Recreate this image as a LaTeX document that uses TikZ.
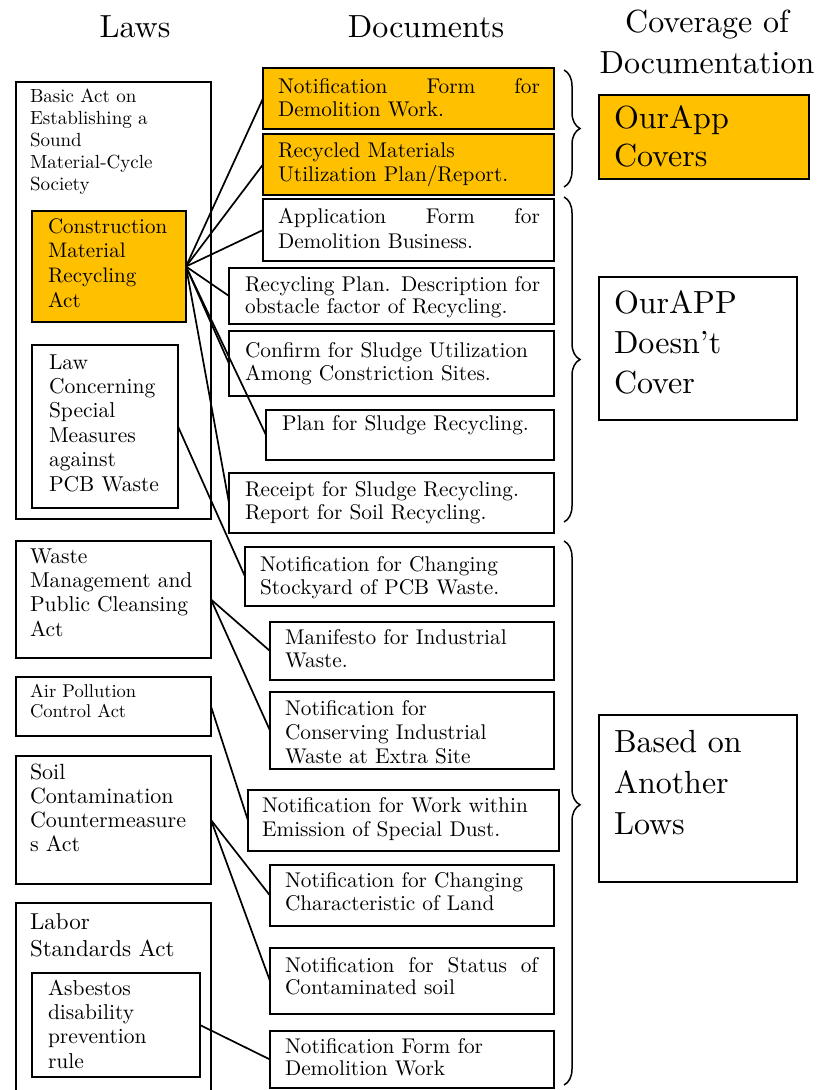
\documentclass[tikz,border=0pt]{standalone}
\usepackage{fontspec}
\setmainfont{lmroman10-regular.otf}
\usetikzlibrary{decorations.pathreplacing}
\definecolor{gold}{RGB}{255,192,0}
\begin{document}
\begin{tikzpicture}[x=1pt,y=-1pt,
  box/.style={draw, line width=1.8pt, inner sep=0pt, outer sep=0pt, anchor=north west},
  gbox/.style={box, fill=gold},
  link/.style={line width=1.7pt},
  brc/.style={line width=1.5pt, decorate, decoration={brace, amplitude=16pt}},
  tx/.style={anchor=base west, inner sep=0pt, outer sep=0pt, align=left, text width=#1},
  tx/.default=300pt,
  fhead/.style={font=\fontsize{32}{41}\selectfont},
  fbig/.style={font=\fontsize{32}{40}\selectfont},
  fdoc/.style={font=\fontsize{21.3}{23}\selectfont},
  flaw/.style={font=\fontsize{21.5}{24.4}\selectfont},
  fsmall/.style={font=\fontsize{19}{22}\selectfont},
]
\useasboundingbox (0,0) rectangle (821,1090);

% headers
\node[fhead, anchor=base, inner sep=0pt] (hlaws) at (135,37) {Laws};
\node[fhead, anchor=base, inner sep=0pt] (hdocs) at (426,37) {Documents};
\node[fhead, anchor=base, inner sep=0pt, align=center, text width=240pt] (hcov) at (707,32) {Coverage of\\Documentation};

% law boxes
\node[box, minimum width=195pt, minimum height=437pt] (basic) at (16,82) {};
\node[gbox, minimum width=154pt, minimum height=111pt] (cons) at (32,211) {};
\node[box, minimum width=146pt, minimum height=163pt] (pcb) at (32,345) {};
\node[box, minimum width=195pt, minimum height=117pt] (waste) at (16,541) {};
\node[box, minimum width=195pt, minimum height=59pt] (air) at (16,677) {};
\node[box, minimum width=195pt, minimum height=128pt] (soil) at (16,756) {};
\node[box, minimum width=195pt, minimum height=200pt] (labor) at (16,903) {};
\node[box, minimum width=168pt, minimum height=104pt] (asb) at (32,973) {};

\node[tx, fsmall] (tbasic) at (30,102) {Basic Act on\\Establishing a\\Sound\\Material-Cycle\\Society};
\node[tx, font=\fontsize{21}{24.7}\selectfont] (tcons) at (48,233) {Construction\\Material\\Recycling\\Act};
\node[tx, flaw] (tpcb) at (49,369) {Law\\Concerning\\Special\\Measures\\against\\PCB Waste};
\node[tx, flaw] (twaste) at (30,563) {Waste\\Management and\\Public Cleansing\\Act};
\node[tx, font=\fontsize{18.5}{20}\selectfont] (tair) at (30,697) {Air Pollution\\Control Act};
\node[tx, font=\fontsize{22}{24.3}\selectfont] (tsoil) at (30,779) {Soil\\Contamination\\Countermeasure\\s Act};
\node[tx, font=\fontsize{23}{27}\selectfont] (tlabor) at (30,929) {Labor\\Standards Act};
\node[tx, flaw] (tasb) at (48,995) {Asbestos\\disability\\prevention\\rule};

% document boxes
\node[gbox, minimum width=291pt, minimum height=61pt] (d1) at (263,68) {};
\node[gbox, minimum width=291pt, minimum height=61pt] (d2) at (263,134) {};
\node[box, minimum width=291pt, minimum height=62pt] (d3) at (263,199) {};
\node[box, minimum width=325pt, minimum height=56pt] (d4) at (229,268) {};
\node[box, minimum width=325pt, minimum height=65pt] (d5) at (229,331) {};
\node[box, minimum width=288pt, minimum height=50pt] (d6) at (266,410) {};
\node[box, minimum width=325pt, minimum height=60pt] (d7) at (229,473) {};
\node[box, minimum width=309pt, minimum height=59pt] (d8) at (245,547) {};
\node[box, minimum width=284pt, minimum height=58pt] (d9) at (270,622) {};
\node[box, minimum width=284pt, minimum height=77pt] (d10) at (270,692) {};
\node[box, minimum width=311pt, minimum height=61pt] (d11) at (248,790) {};
\node[box, minimum width=284pt, minimum height=61pt] (d12) at (270,865) {};
\node[box, minimum width=284pt, minimum height=66pt] (d13) at (270,948) {};
\node[box, minimum width=284pt, minimum height=57pt] (d14) at (270,1031) {};

\node[tx=262pt, fdoc] (td1) at (278,93) {Notification\hfill Form\hfill for\\Demolition Work.};
\node[tx, font=\fontsize{21.3}{24}\selectfont] (td2) at (278,157) {Recycled Materials\\Utilization Plan/Report.};
\node[tx=262pt, font=\fontsize{21.3}{25}\selectfont] (td3) at (278,223) {Application\hfill Form\hfill for\\Demolition Business.};
\node[tx, font=\fontsize{21.3}{22}\selectfont] (td4) at (245,291) {Recycling Plan. Description for\\obstacle factor of Recycling.};
\node[tx, fdoc] (td5) at (245,357) {Confirm for Sludge Utilization\\Among Constriction Sites.};
\node[tx, fdoc] (td6) at (282,430) {Plan for Sludge Recycling.};
\node[tx, fdoc] (td7) at (245,496) {Receipt for Sludge Recycling.\\Report for Soil Recycling.};
\node[tx, fdoc] (td8) at (260,571) {Notification for Changing\\Stockyard of PCB Waste.};
\node[tx, fdoc] (td9) at (285,644) {Manifesto for Industrial\\Waste.};
\node[tx, font=\fontsize{21.3}{24}\selectfont] (td10) at (285,715) {Notification for\\Conserving Industrial\\Waste at Extra Site};
\node[tx, font=\fontsize{21.3}{24}\selectfont] (td11) at (262,812) {Notification for Work within\\Emission of Special Dust.};
\node[tx, fdoc] (td12) at (285,887) {Notification for Changing\\Characteristic of Land};
\node[tx=253pt, font=\fontsize{21.3}{22}\selectfont] (td13) at (285,972) {Notification\hfill for\hfill Status\hfill of\\Contaminated soil};
\node[tx, font=\fontsize{21.3}{22}\selectfont] (td14) at (285,1053) {Notification Form for\\Demolition Work};

% coverage boxes
\node[gbox, minimum width=210pt, minimum height=84pt] (cov1) at (599,95) {};
\node[box, minimum width=198pt, minimum height=143pt] (cov2) at (599,277) {};
\node[box, minimum width=198pt, minimum height=167pt] (cov3) at (599,715) {};
\node[tx, font=\fontsize{32}{38}\selectfont] (tcov1) at (614,128) {OurApp\\Covers};
\node[tx, fbig] (tcov2) at (614,313) {OurAPP\\Doesn’t\\Cover};
\node[tx, font=\fontsize{32}{41}\selectfont] (tcov3) at (614,752) {Based on\\Another\\Lows};

% braces
\draw[brc] (564,70) -- (564,187);
\draw[brc] (564,197) -- (564,522);
\draw[brc, decoration={aspect=0.485}] (564,541) -- (564,1085);

% connectors
\foreach \d in {d1,d2,d3,d4,d5,d6,d7} \draw[link] (cons.east) -- (\d.west);
\draw[link] (pcb.east) -- (d8.west);
\draw[link] (waste.east) -- (d9.west);
\draw[link] (waste.east) -- (d10.west);
\draw[link] (air.east) -- (d11.west);
\draw[link] (soil.east) -- (d12.west);
\draw[link] (soil.east) -- (d13.west);
\draw[link] (asb.east) -- (d14.west);
\end{tikzpicture}
\end{document}
